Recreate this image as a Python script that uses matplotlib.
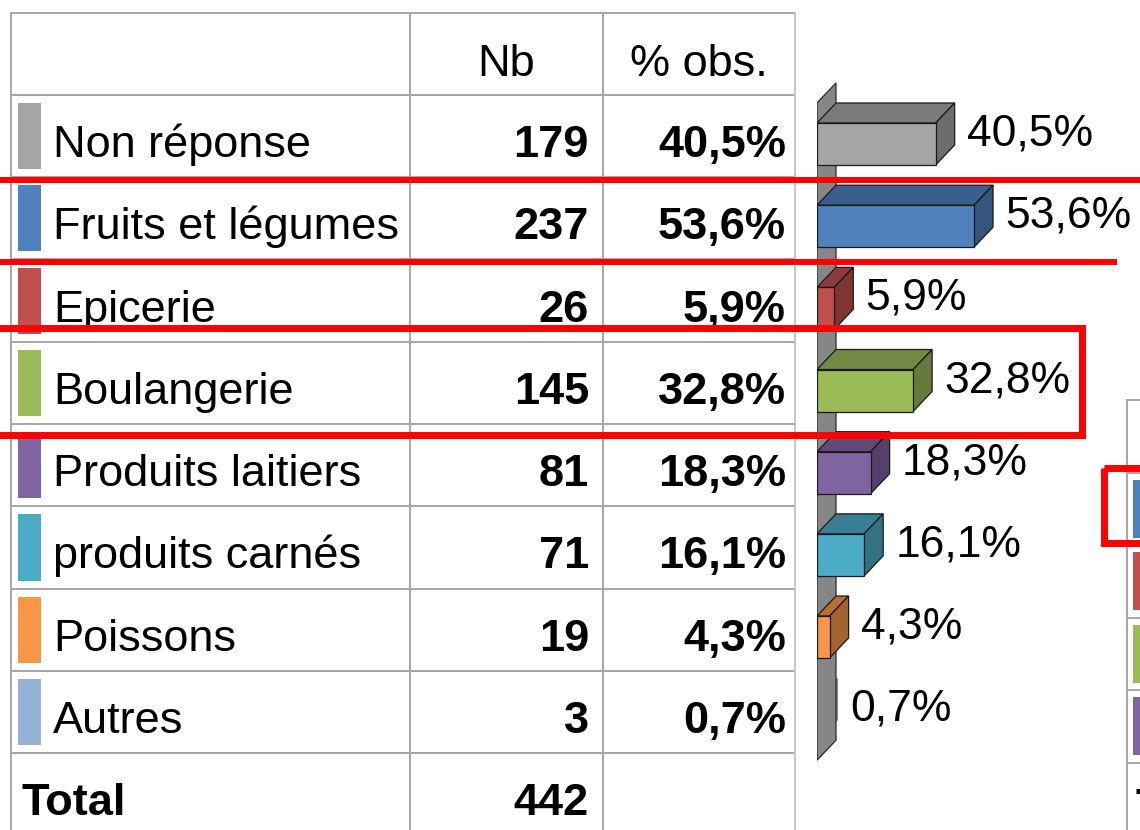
import matplotlib
matplotlib.use("Agg")
import matplotlib.pyplot as plt
from matplotlib.patches import Polygon, Rectangle
import numpy as np

plt.rcParams['font.family'] = ['Liberation Sans', 'DejaVu Sans']

# ---------------- data ----------------
categories = ["Non réponse", "Fruits et légumes", "Epicerie", "Boulangerie",
              "Produits laitiers", "produits carnés", "Poissons", "Autres"]
counts = [179, 237, 26, 145, 81, 71, 19, 3]
pcts = [40.5, 53.6, 5.9, 32.8, 18.3, 16.1, 4.3, 0.7]
total = 442
header = ["", "Nb", "% obs."]
colors = ["#A5A5A5", "#4F81BD", "#C0504D", "#9BBB59",
          "#8064A2", "#4BACC6", "#F79646", "#95B3D7"]
side_table_colors = ["#4F81BD", "#C0504D", "#9BBB59", "#8064A2"]


def fmt_pct(v):
    return f"{v:.1f}".replace(".", ",") + "%"


def shade(c, f):
    r, g, b = matplotlib.colors.to_rgb(c)
    return (r * f, g * f, b * f)


W, H = 1140, 830
fig = plt.figure(figsize=(W / 100, H / 100), dpi=100)
fig.patch.set_facecolor("white")

# ---------------- table (pixel coordinates) ----------------
ax_t = fig.add_axes([0, 0, 1, 1])
ax_t.set_xlim(0, W)
ax_t.set_ylim(H, 0)
ax_t.axis("off")

grid_col = "#a6a6a6"
x_left, x_c1, x_c2, x_right = 11, 410, 603, 795
y_top = 13
row_h = 82.25
header_bottom = 95
n = len(categories)
row_edges = [header_bottom + row_h * k for k in range(n + 2)]
lw_grid = 1.4

ax_t.plot([x_left, x_right], [y_top, y_top], color=grid_col, lw=lw_grid)
for y in row_edges[:-1]:
    ax_t.plot([x_left, x_right], [y, y], color=grid_col, lw=lw_grid)
for x in [x_left, x_c1, x_c2]:
    ax_t.plot([x, x], [y_top, H + 5], color=grid_col, lw=lw_grid)
ax_t.plot([x_right, x_right], [y_top, H + 5], color="#c4c4c4", lw=lw_grid)

fs = 32.5
ax_t.text((x_c1 + x_c2) / 2, 76, header[1], ha="center", va="baseline", fontsize=fs)
ax_t.text((x_c2 + x_right) / 2, 76, header[2], ha="center", va="baseline", fontsize=fs)

for i, (cat, cnt, p, c) in enumerate(zip(categories, counts, pcts, colors)):
    top = row_edges[i]
    bot = row_edges[i + 1]
    mid = (top + bot) / 2
    ax_t.add_patch(Rectangle((18, top + 8), 23, (bot - top) - 16, facecolor=c,
                             edgecolor="none"))
    ax_t.text(53, mid + 21, cat, ha="left", va="baseline", fontsize=fs)
    ax_t.text(589, mid + 21, str(cnt), ha="right", va="baseline", fontsize=fs,
              fontweight="bold")
    ax_t.text(786, mid + 21, fmt_pct(p), ha="right", va="baseline", fontsize=fs,
              fontweight="bold")

tmid = (row_edges[n] + row_edges[n + 1]) / 2
ax_t.text(22, tmid + 21, "Total", ha="left", va="baseline", fontsize=fs, fontweight="bold")
ax_t.text(589, tmid + 21, str(total), ha="right", va="baseline", fontsize=fs,
          fontweight="bold")

# partial second table at the right edge
ax_t.plot([1127, 1127], [400, H + 5], color=grid_col, lw=lw_grid)
side_rows = [400, 473, 545, 618, 690, 763]
for y in side_rows:
    ax_t.plot([1127, W + 5], [y, y], color=grid_col, lw=lw_grid)
for k, c in enumerate(side_table_colors):
    t0 = side_rows[k + 1]
    ax_t.add_patch(Rectangle((1133, t0 + 7), 12, 58, facecolor=c, edgecolor="none"))
ax_t.text(1136, 820, "Total", ha="left", va="baseline", fontsize=fs, fontweight="bold")

# ---------------- 3D bar chart ----------------
px_per_pct = 2.93
row_px = 82.17
first_center = 144
bar_left_px = 817
ax_b = fig.add_axes([bar_left_px / W, 0, (W - bar_left_px) / W, 1])
ax_b.set_xlim(0, (W - bar_left_px) / px_per_pct)
ax_b.set_ylim((H - first_center) / row_px, -first_center / row_px)
ax_b.axis("off")

dx = 19 / px_per_pct
dy = 20 / row_px
bh = 42 / row_px
y_idx = np.arange(n)

# side wall of the 3D chart
wall_col = "#868686"
wall_top, wall_bot = -0.5, n - 0.5
wall = Polygon([(0, wall_top), (dx, wall_top - dy), (dx, wall_bot - dy), (0, wall_bot)],
               closed=True, facecolor=wall_col, edgecolor="#2a2a2a", lw=0.9, zorder=1.5)
ax_b.add_patch(wall)

edge = "#1a1a1a"
for yi, p, c in zip(y_idx, pcts, colors):
    thin = p < 1
    z = 1 if thin else 2
    fc_top = wall_col if thin else shade(c, 0.74)
    fc_side = wall_col if thin else shade(c, 0.66)
    ec = "none" if thin else edge
    yt = yi - bh / 2
    yb = yi + bh / 2
    top_face = Polygon([(0, yt), (p, yt), (p + dx, yt - dy), (dx, yt - dy)], closed=True,
                       facecolor=fc_top, edgecolor=ec, lw=0.9, zorder=z)
    side_face = Polygon([(p, yt), (p + dx, yt - dy), (p + dx, yb - dy), (p, yb)], closed=True,
                        facecolor=fc_side, edgecolor=ec, lw=0.9, zorder=z)
    ax_b.add_patch(top_face)
    ax_b.add_patch(side_face)
    ax_b.barh([yi], [p], height=bh, left=0, color=c, edgecolor=ec, lw=0.9,
              zorder=1 if thin else 3)

for yi, p in zip(y_idx, pcts):
    ax_b.text(p + dx + 12 / px_per_pct, yi + 1.5 / row_px, fmt_pct(p), ha="left",
              va="baseline", fontsize=32, clip_on=False, zorder=4)

# ---------------- red annotations ----------------
ax_r = fig.add_axes([0, 0, 1, 1])
ax_r.set_xlim(0, W)
ax_r.set_ylim(H, 0)
ax_r.axis("off")
ax_r.patch.set_alpha(0)
red = "#ff0000"
ax_r.plot([-10, W + 10], [180, 180], color=red, lw=4.3, solid_capstyle="butt")
ax_r.plot([-10, 1117], [262, 262], color=red, lw=4.3, solid_capstyle="butt")
ax_r.add_patch(Rectangle((-20, 328), 1082 + 20, 435 - 328, fill=False, edgecolor=red,
                         lw=5, joinstyle="miter"))
ax_r.add_patch(Rectangle((1104, 468), 80, 543 - 468, fill=False, edgecolor=red,
                         lw=5, joinstyle="miter"))

fig.savefig("out.png", dpi=100, facecolor="white")
